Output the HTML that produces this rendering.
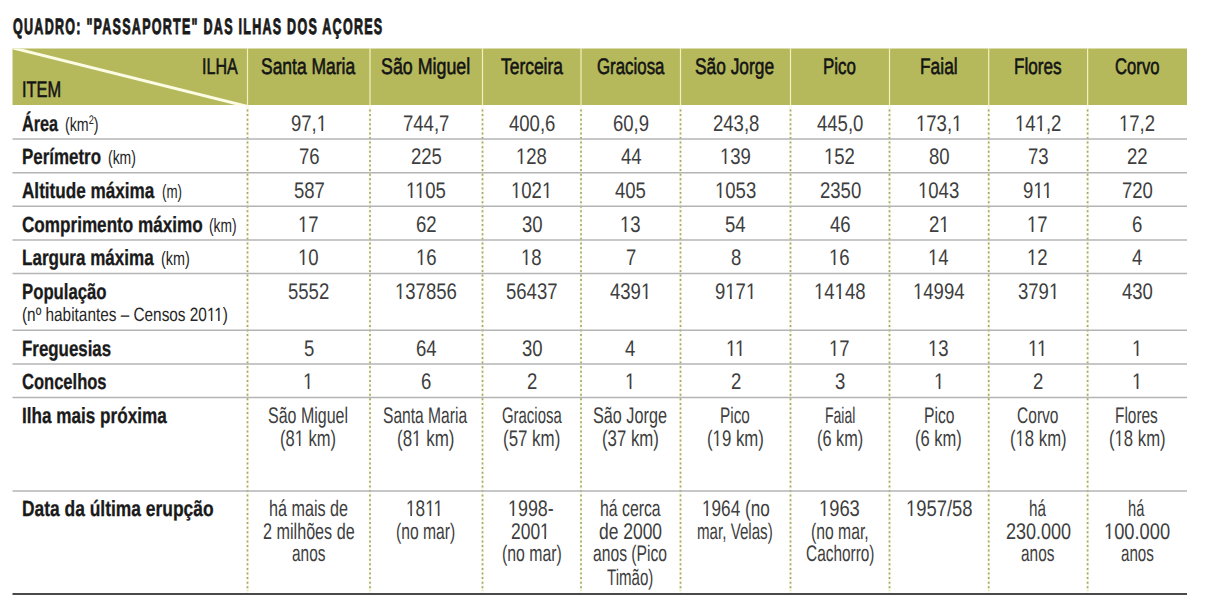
<!DOCTYPE html>
<html><head><meta charset="utf-8"><style>
html,body{margin:0;padding:0;background:#fff;width:1206px;height:609px;overflow:hidden}
.t{position:absolute;white-space:pre;font-family:"Liberation Sans",sans-serif;transform-origin:0 0;text-rendering:geometricPrecision}
svg{position:absolute;left:0;top:0}
</style></head><body>
<svg width="1206" height="609" viewBox="0 0 1206 609"><rect x="12.5" y="48.5" width="1174.5" height="56.5" fill="#b5b95c"/><clipPath id="hc"><rect x="12.5" y="48.5" width="1174.5" height="56.5"/></clipPath><line x1="9" y1="47" x2="252" y2="107.6" stroke="#fcfbe4" stroke-width="3" clip-path="url(#hc)"/><line x1="247.5" y1="48.5" x2="247.5" y2="105" stroke="#f3f0c0" stroke-width="1.2"/><line x1="370" y1="48.5" x2="370" y2="105" stroke="#f3f0c0" stroke-width="1.2"/><line x1="482.5" y1="48.5" x2="482.5" y2="105" stroke="#f3f0c0" stroke-width="1.2"/><line x1="581" y1="48.5" x2="581" y2="105" stroke="#f3f0c0" stroke-width="1.2"/><line x1="680.5" y1="48.5" x2="680.5" y2="105" stroke="#f3f0c0" stroke-width="1.2"/><line x1="790.5" y1="48.5" x2="790.5" y2="105" stroke="#f3f0c0" stroke-width="1.2"/><line x1="889.5" y1="48.5" x2="889.5" y2="105" stroke="#f3f0c0" stroke-width="1.2"/><line x1="988.7" y1="48.5" x2="988.7" y2="105" stroke="#f3f0c0" stroke-width="1.2"/><line x1="1087.6" y1="48.5" x2="1087.6" y2="105" stroke="#f3f0c0" stroke-width="1.2"/><line x1="247.5" y1="105" x2="247.5" y2="593.0" stroke="#fafae6" stroke-width="2.5"/><line x1="247.5" y1="109.5" x2="247.5" y2="591.0" stroke="#a5a76d" stroke-width="1.7" stroke-dasharray="2 2.584"/><line x1="370" y1="105" x2="370" y2="593.0" stroke="#fafae6" stroke-width="2.5"/><line x1="370" y1="109.5" x2="370" y2="591.0" stroke="#a5a76d" stroke-width="1.7" stroke-dasharray="2 2.584"/><line x1="482.5" y1="105" x2="482.5" y2="593.0" stroke="#fafae6" stroke-width="2.5"/><line x1="482.5" y1="109.5" x2="482.5" y2="591.0" stroke="#a5a76d" stroke-width="1.7" stroke-dasharray="2 2.584"/><line x1="581" y1="105" x2="581" y2="593.0" stroke="#fafae6" stroke-width="2.5"/><line x1="581" y1="109.5" x2="581" y2="591.0" stroke="#a5a76d" stroke-width="1.7" stroke-dasharray="2 2.584"/><line x1="680.5" y1="105" x2="680.5" y2="593.0" stroke="#fafae6" stroke-width="2.5"/><line x1="680.5" y1="109.5" x2="680.5" y2="591.0" stroke="#a5a76d" stroke-width="1.7" stroke-dasharray="2 2.584"/><line x1="790.5" y1="105" x2="790.5" y2="593.0" stroke="#fafae6" stroke-width="2.5"/><line x1="790.5" y1="109.5" x2="790.5" y2="591.0" stroke="#a5a76d" stroke-width="1.7" stroke-dasharray="2 2.584"/><line x1="889.5" y1="105" x2="889.5" y2="593.0" stroke="#fafae6" stroke-width="2.5"/><line x1="889.5" y1="109.5" x2="889.5" y2="591.0" stroke="#a5a76d" stroke-width="1.7" stroke-dasharray="2 2.584"/><line x1="988.7" y1="105" x2="988.7" y2="593.0" stroke="#fafae6" stroke-width="2.5"/><line x1="988.7" y1="109.5" x2="988.7" y2="591.0" stroke="#a5a76d" stroke-width="1.7" stroke-dasharray="2 2.584"/><line x1="1087.6" y1="105" x2="1087.6" y2="593.0" stroke="#fafae6" stroke-width="2.5"/><line x1="1087.6" y1="109.5" x2="1087.6" y2="591.0" stroke="#a5a76d" stroke-width="1.7" stroke-dasharray="2 2.584"/><line x1="12.5" y1="139.0" x2="1187" y2="139.0" stroke="#b4b4b4" stroke-width="1.5"/><line x1="12.5" y1="172.7" x2="1187" y2="172.7" stroke="#b4b4b4" stroke-width="1.5"/><line x1="12.5" y1="206.3" x2="1187" y2="206.3" stroke="#b4b4b4" stroke-width="1.5"/><line x1="12.5" y1="239.9" x2="1187" y2="239.9" stroke="#b4b4b4" stroke-width="1.5"/><line x1="12.5" y1="273.4" x2="1187" y2="273.4" stroke="#b4b4b4" stroke-width="1.5"/><line x1="12.5" y1="330.3" x2="1187" y2="330.3" stroke="#b4b4b4" stroke-width="1.5"/><line x1="12.5" y1="364.0" x2="1187" y2="364.0" stroke="#b4b4b4" stroke-width="1.5"/><line x1="12.5" y1="397.5" x2="1187" y2="397.5" stroke="#b4b4b4" stroke-width="1.5"/><line x1="12.5" y1="491.0" x2="1187" y2="491.0" stroke="#b4b4b4" stroke-width="1.5"/><line x1="12.5" y1="594.0" x2="1187" y2="594.0" stroke="#4a4a4a" stroke-width="2"/></svg>
<div class="t" style="left:13.00px;top:16.00px;font-weight:bold;font-size:22.2px;line-height:22.2px;transform:scaleX(0.5657);color:#1a1a1a;letter-spacing:2.2px;-webkit-text-stroke:0.9px #1a1a1a;">QUADRO: "PASSAPORTE" DAS ILHAS DOS AÇORES</div>
<div class="t" style="left:202.09px;top:56.00px;font-weight:normal;font-size:22.6px;line-height:22.6px;transform:scaleX(0.7100);color:#141414;-webkit-text-stroke:0.6px #141414;">ILHA</div>
<div class="t" style="left:21.77px;top:79.00px;font-weight:normal;font-size:22.6px;line-height:22.6px;transform:scaleX(0.7250);color:#141414;-webkit-text-stroke:0.6px #141414;">ITEM</div>
<div class="t" style="left:260.73px;top:56.00px;font-weight:normal;font-size:22.6px;line-height:22.6px;transform:scaleX(0.7730);color:#141414;-webkit-text-stroke:0.6px #141414;">Santa Maria</div>
<div class="t" style="left:380.71px;top:56.00px;font-weight:normal;font-size:22.6px;line-height:22.6px;transform:scaleX(0.7893);color:#141414;-webkit-text-stroke:0.6px #141414;">São Miguel</div>
<div class="t" style="left:500.60px;top:56.00px;font-weight:normal;font-size:22.6px;line-height:22.6px;transform:scaleX(0.7704);color:#141414;-webkit-text-stroke:0.6px #141414;">Terceira</div>
<div class="t" style="left:596.80px;top:56.00px;font-weight:normal;font-size:22.6px;line-height:22.6px;transform:scaleX(0.7462);color:#141414;-webkit-text-stroke:0.6px #141414;">Graciosa</div>
<div class="t" style="left:694.93px;top:56.00px;font-weight:normal;font-size:22.6px;line-height:22.6px;transform:scaleX(0.7676);color:#141414;-webkit-text-stroke:0.6px #141414;">São Jorge</div>
<div class="t" style="left:823.15px;top:56.00px;font-weight:normal;font-size:22.6px;line-height:22.6px;transform:scaleX(0.7512);color:#141414;-webkit-text-stroke:0.6px #141414;">Pico</div>
<div class="t" style="left:920.13px;top:56.00px;font-weight:normal;font-size:22.6px;line-height:22.6px;transform:scaleX(0.7687);color:#141414;-webkit-text-stroke:0.6px #141414;">Faial</div>
<div class="t" style="left:1013.74px;top:56.00px;font-weight:normal;font-size:22.6px;line-height:22.6px;transform:scaleX(0.7581);color:#141414;-webkit-text-stroke:0.6px #141414;">Flores</div>
<div class="t" style="left:1115.10px;top:56.00px;font-weight:normal;font-size:22.6px;line-height:22.6px;transform:scaleX(0.7383);color:#141414;-webkit-text-stroke:0.6px #141414;">Corvo</div>
<div class="t" style="left:21.50px;top:113.00px;font-weight:bold;font-size:22.0px;line-height:22.0px;transform:scaleX(0.7380);color:#1a1a1a;-webkit-text-stroke:0.3px #1a1a1a;">Área</div>
<div class="t" style="left:22.30px;top:146.00px;font-weight:bold;font-size:22.0px;line-height:22.0px;transform:scaleX(0.7689);color:#1a1a1a;-webkit-text-stroke:0.3px #1a1a1a;">Perímetro</div>
<div class="t" style="left:21.50px;top:180.00px;font-weight:bold;font-size:22.0px;line-height:22.0px;transform:scaleX(0.7789);color:#1a1a1a;-webkit-text-stroke:0.3px #1a1a1a;">Altitude máxima</div>
<div class="t" style="left:21.70px;top:214.00px;font-weight:bold;font-size:22.0px;line-height:22.0px;transform:scaleX(0.7780);color:#1a1a1a;-webkit-text-stroke:0.3px #1a1a1a;">Comprimento máximo</div>
<div class="t" style="left:21.70px;top:247.00px;font-weight:bold;font-size:22.0px;line-height:22.0px;transform:scaleX(0.7743);color:#1a1a1a;-webkit-text-stroke:0.3px #1a1a1a;">Largura máxima</div>
<div class="t" style="left:21.70px;top:281.00px;font-weight:bold;font-size:22.0px;line-height:22.0px;transform:scaleX(0.7604);color:#1a1a1a;-webkit-text-stroke:0.3px #1a1a1a;">População</div>
<div class="t" style="left:22.10px;top:338.00px;font-weight:bold;font-size:22.0px;line-height:22.0px;transform:scaleX(0.7672);color:#1a1a1a;-webkit-text-stroke:0.3px #1a1a1a;">Freguesias</div>
<div class="t" style="left:22.00px;top:371.00px;font-weight:bold;font-size:22.0px;line-height:22.0px;transform:scaleX(0.7518);color:#1a1a1a;-webkit-text-stroke:0.3px #1a1a1a;">Concelhos</div>
<div class="t" style="left:22.00px;top:405.00px;font-weight:bold;font-size:22.0px;line-height:22.0px;transform:scaleX(0.7786);color:#1a1a1a;-webkit-text-stroke:0.3px #1a1a1a;">Ilha mais próxima</div>
<div class="t" style="left:22.00px;top:498.00px;font-weight:bold;font-size:22.0px;line-height:22.0px;transform:scaleX(0.7913);color:#1a1a1a;-webkit-text-stroke:0.3px #1a1a1a;">Data da última erupção</div>
<div class="t" style="left:64.70px;top:116.00px;font-weight:normal;font-size:19.2px;line-height:19.2px;transform:scaleX(0.7400);color:#262626;">(km<span style="font-size:12.5px;position:relative;top:-7px">2</span>)</div>
<div class="t" style="left:108.30px;top:149.00px;font-weight:normal;font-size:19.2px;line-height:19.2px;transform:scaleX(0.7263);color:#262626;">(km)</div>
<div class="t" style="left:161.60px;top:183.00px;font-weight:normal;font-size:19.2px;line-height:19.2px;transform:scaleX(0.6964);color:#262626;">(m)</div>
<div class="t" style="left:208.60px;top:217.00px;font-weight:normal;font-size:19.2px;line-height:19.2px;transform:scaleX(0.7184);color:#262626;">(km)</div>
<div class="t" style="left:160.50px;top:250.00px;font-weight:normal;font-size:19.2px;line-height:19.2px;transform:scaleX(0.7500);color:#262626;">(km)</div>
<div class="t" style="left:21.70px;top:306.00px;font-weight:normal;font-size:19.2px;line-height:19.2px;transform:scaleX(0.8004);color:#262626;">(nº habitantes – Censos 2011)</div>
<div class="t" style="left:290.71px;top:113.00px;font-weight:normal;font-size:22.6px;line-height:22.6px;transform:scaleX(0.8200);color:#3e3e3e;">97,1</div>
<div class="t" style="left:403.29px;top:113.00px;font-weight:normal;font-size:22.6px;line-height:22.6px;transform:scaleX(0.8200);color:#3e3e3e;">744,7</div>
<div class="t" style="left:508.79px;top:113.00px;font-weight:normal;font-size:22.6px;line-height:22.6px;transform:scaleX(0.8200);color:#3e3e3e;">400,6</div>
<div class="t" style="left:612.71px;top:113.00px;font-weight:normal;font-size:22.6px;line-height:22.6px;transform:scaleX(0.8200);color:#3e3e3e;">60,9</div>
<div class="t" style="left:712.54px;top:113.00px;font-weight:normal;font-size:22.6px;line-height:22.6px;transform:scaleX(0.8200);color:#3e3e3e;">243,8</div>
<div class="t" style="left:816.63px;top:113.00px;font-weight:normal;font-size:22.6px;line-height:22.6px;transform:scaleX(0.8200);color:#3e3e3e;">445,0</div>
<div class="t" style="left:915.73px;top:113.00px;font-weight:normal;font-size:22.6px;line-height:22.6px;transform:scaleX(0.8200);color:#3e3e3e;">173,1</div>
<div class="t" style="left:1014.78px;top:113.00px;font-weight:normal;font-size:22.6px;line-height:22.6px;transform:scaleX(0.8200);color:#3e3e3e;">141,2</div>
<div class="t" style="left:1118.85px;top:113.00px;font-weight:normal;font-size:22.6px;line-height:22.6px;transform:scaleX(0.8200);color:#3e3e3e;">17,2</div>
<div class="t" style="left:298.50px;top:146.00px;font-weight:normal;font-size:22.6px;line-height:22.6px;transform:scaleX(0.8200);color:#3e3e3e;">76</div>
<div class="t" style="left:410.67px;top:146.00px;font-weight:normal;font-size:22.6px;line-height:22.6px;transform:scaleX(0.8200);color:#3e3e3e;">225</div>
<div class="t" style="left:515.76px;top:146.00px;font-weight:normal;font-size:22.6px;line-height:22.6px;transform:scaleX(0.8200);color:#3e3e3e;">128</div>
<div class="t" style="left:620.50px;top:146.00px;font-weight:normal;font-size:22.6px;line-height:22.6px;transform:scaleX(0.8200);color:#3e3e3e;">44</div>
<div class="t" style="left:719.51px;top:146.00px;font-weight:normal;font-size:22.6px;line-height:22.6px;transform:scaleX(0.8200);color:#3e3e3e;">139</div>
<div class="t" style="left:824.42px;top:146.00px;font-weight:normal;font-size:22.6px;line-height:22.6px;transform:scaleX(0.8200);color:#3e3e3e;">152</div>
<div class="t" style="left:928.85px;top:146.00px;font-weight:normal;font-size:22.6px;line-height:22.6px;transform:scaleX(0.8200);color:#3e3e3e;">80</div>
<div class="t" style="left:1027.90px;top:146.00px;font-weight:normal;font-size:22.6px;line-height:22.6px;transform:scaleX(0.8200);color:#3e3e3e;">73</div>
<div class="t" style="left:1127.05px;top:146.00px;font-weight:normal;font-size:22.6px;line-height:22.6px;transform:scaleX(0.8200);color:#3e3e3e;">22</div>
<div class="t" style="left:293.58px;top:180.00px;font-weight:normal;font-size:22.6px;line-height:22.6px;transform:scaleX(0.8200);color:#3e3e3e;">587</div>
<div class="t" style="left:406.16px;top:180.00px;font-weight:normal;font-size:22.6px;line-height:22.6px;transform:scaleX(0.8200);color:#3e3e3e;">1105</div>
<div class="t" style="left:510.84px;top:180.00px;font-weight:normal;font-size:22.6px;line-height:22.6px;transform:scaleX(0.8200);color:#3e3e3e;">1021</div>
<div class="t" style="left:615.17px;top:180.00px;font-weight:normal;font-size:22.6px;line-height:22.6px;transform:scaleX(0.8200);color:#3e3e3e;">405</div>
<div class="t" style="left:714.59px;top:180.00px;font-weight:normal;font-size:22.6px;line-height:22.6px;transform:scaleX(0.8200);color:#3e3e3e;">1053</div>
<div class="t" style="left:819.50px;top:180.00px;font-weight:normal;font-size:22.6px;line-height:22.6px;transform:scaleX(0.8200);color:#3e3e3e;">2350</div>
<div class="t" style="left:918.19px;top:180.00px;font-weight:normal;font-size:22.6px;line-height:22.6px;transform:scaleX(0.8200);color:#3e3e3e;">1043</div>
<div class="t" style="left:1023.39px;top:180.00px;font-weight:normal;font-size:22.6px;line-height:22.6px;transform:scaleX(0.8200);color:#3e3e3e;">911</div>
<div class="t" style="left:1121.72px;top:180.00px;font-weight:normal;font-size:22.6px;line-height:22.6px;transform:scaleX(0.8200);color:#3e3e3e;">720</div>
<div class="t" style="left:298.09px;top:214.00px;font-weight:normal;font-size:22.6px;line-height:22.6px;transform:scaleX(0.8200);color:#3e3e3e;">17</div>
<div class="t" style="left:416.00px;top:214.00px;font-weight:normal;font-size:22.6px;line-height:22.6px;transform:scaleX(0.8200);color:#3e3e3e;">62</div>
<div class="t" style="left:521.50px;top:214.00px;font-weight:normal;font-size:22.6px;line-height:22.6px;transform:scaleX(0.8200);color:#3e3e3e;">30</div>
<div class="t" style="left:620.09px;top:214.00px;font-weight:normal;font-size:22.6px;line-height:22.6px;transform:scaleX(0.8200);color:#3e3e3e;">13</div>
<div class="t" style="left:725.25px;top:214.00px;font-weight:normal;font-size:22.6px;line-height:22.6px;transform:scaleX(0.8200);color:#3e3e3e;">54</div>
<div class="t" style="left:829.75px;top:214.00px;font-weight:normal;font-size:22.6px;line-height:22.6px;transform:scaleX(0.8200);color:#3e3e3e;">46</div>
<div class="t" style="left:928.85px;top:214.00px;font-weight:normal;font-size:22.6px;line-height:22.6px;transform:scaleX(0.8200);color:#3e3e3e;">21</div>
<div class="t" style="left:1027.49px;top:214.00px;font-weight:normal;font-size:22.6px;line-height:22.6px;transform:scaleX(0.8200);color:#3e3e3e;">17</div>
<div class="t" style="left:1132.38px;top:214.00px;font-weight:normal;font-size:22.6px;line-height:22.6px;transform:scaleX(0.8200);color:#3e3e3e;">6</div>
<div class="t" style="left:298.09px;top:247.00px;font-weight:normal;font-size:22.6px;line-height:22.6px;transform:scaleX(0.8200);color:#3e3e3e;">10</div>
<div class="t" style="left:415.59px;top:247.00px;font-weight:normal;font-size:22.6px;line-height:22.6px;transform:scaleX(0.8200);color:#3e3e3e;">16</div>
<div class="t" style="left:521.09px;top:247.00px;font-weight:normal;font-size:22.6px;line-height:22.6px;transform:scaleX(0.8200);color:#3e3e3e;">18</div>
<div class="t" style="left:625.83px;top:247.00px;font-weight:normal;font-size:22.6px;line-height:22.6px;transform:scaleX(0.8200);color:#3e3e3e;">7</div>
<div class="t" style="left:730.58px;top:247.00px;font-weight:normal;font-size:22.6px;line-height:22.6px;transform:scaleX(0.8200);color:#3e3e3e;">8</div>
<div class="t" style="left:829.34px;top:247.00px;font-weight:normal;font-size:22.6px;line-height:22.6px;transform:scaleX(0.8200);color:#3e3e3e;">16</div>
<div class="t" style="left:928.44px;top:247.00px;font-weight:normal;font-size:22.6px;line-height:22.6px;transform:scaleX(0.8200);color:#3e3e3e;">14</div>
<div class="t" style="left:1027.49px;top:247.00px;font-weight:normal;font-size:22.6px;line-height:22.6px;transform:scaleX(0.8200);color:#3e3e3e;">12</div>
<div class="t" style="left:1131.97px;top:247.00px;font-weight:normal;font-size:22.6px;line-height:22.6px;transform:scaleX(0.8200);color:#3e3e3e;">4</div>
<div class="t" style="left:288.25px;top:281.00px;font-weight:normal;font-size:22.6px;line-height:22.6px;transform:scaleX(0.8200);color:#3e3e3e;">5552</div>
<div class="t" style="left:395.09px;top:281.00px;font-weight:normal;font-size:22.6px;line-height:22.6px;transform:scaleX(0.8200);color:#3e3e3e;">137856</div>
<div class="t" style="left:506.33px;top:281.00px;font-weight:normal;font-size:22.6px;line-height:22.6px;transform:scaleX(0.8200);color:#3e3e3e;">56437</div>
<div class="t" style="left:610.25px;top:281.00px;font-weight:normal;font-size:22.6px;line-height:22.6px;transform:scaleX(0.8200);color:#3e3e3e;">4391</div>
<div class="t" style="left:715.00px;top:281.00px;font-weight:normal;font-size:22.6px;line-height:22.6px;transform:scaleX(0.8200);color:#3e3e3e;">9171</div>
<div class="t" style="left:813.76px;top:281.00px;font-weight:normal;font-size:22.6px;line-height:22.6px;transform:scaleX(0.8200);color:#3e3e3e;">14148</div>
<div class="t" style="left:912.86px;top:281.00px;font-weight:normal;font-size:22.6px;line-height:22.6px;transform:scaleX(0.8200);color:#3e3e3e;">14994</div>
<div class="t" style="left:1017.65px;top:281.00px;font-weight:normal;font-size:22.6px;line-height:22.6px;transform:scaleX(0.8200);color:#3e3e3e;">3791</div>
<div class="t" style="left:1121.72px;top:281.00px;font-weight:normal;font-size:22.6px;line-height:22.6px;transform:scaleX(0.8200);color:#3e3e3e;">430</div>
<div class="t" style="left:303.83px;top:338.00px;font-weight:normal;font-size:22.6px;line-height:22.6px;transform:scaleX(0.8200);color:#3e3e3e;">5</div>
<div class="t" style="left:416.00px;top:338.00px;font-weight:normal;font-size:22.6px;line-height:22.6px;transform:scaleX(0.8200);color:#3e3e3e;">64</div>
<div class="t" style="left:521.50px;top:338.00px;font-weight:normal;font-size:22.6px;line-height:22.6px;transform:scaleX(0.8200);color:#3e3e3e;">30</div>
<div class="t" style="left:625.42px;top:338.00px;font-weight:normal;font-size:22.6px;line-height:22.6px;transform:scaleX(0.8200);color:#3e3e3e;">4</div>
<div class="t" style="left:725.66px;top:338.00px;font-weight:normal;font-size:22.6px;line-height:22.6px;transform:scaleX(0.8200);color:#3e3e3e;">11</div>
<div class="t" style="left:829.34px;top:338.00px;font-weight:normal;font-size:22.6px;line-height:22.6px;transform:scaleX(0.8200);color:#3e3e3e;">17</div>
<div class="t" style="left:928.44px;top:338.00px;font-weight:normal;font-size:22.6px;line-height:22.6px;transform:scaleX(0.8200);color:#3e3e3e;">13</div>
<div class="t" style="left:1028.31px;top:338.00px;font-weight:normal;font-size:22.6px;line-height:22.6px;transform:scaleX(0.8200);color:#3e3e3e;">11</div>
<div class="t" style="left:1131.97px;top:338.00px;font-weight:normal;font-size:22.6px;line-height:22.6px;transform:scaleX(0.8200);color:#3e3e3e;">1</div>
<div class="t" style="left:303.42px;top:371.00px;font-weight:normal;font-size:22.6px;line-height:22.6px;transform:scaleX(0.8200);color:#3e3e3e;">1</div>
<div class="t" style="left:421.33px;top:371.00px;font-weight:normal;font-size:22.6px;line-height:22.6px;transform:scaleX(0.8200);color:#3e3e3e;">6</div>
<div class="t" style="left:526.83px;top:371.00px;font-weight:normal;font-size:22.6px;line-height:22.6px;transform:scaleX(0.8200);color:#3e3e3e;">2</div>
<div class="t" style="left:625.42px;top:371.00px;font-weight:normal;font-size:22.6px;line-height:22.6px;transform:scaleX(0.8200);color:#3e3e3e;">1</div>
<div class="t" style="left:730.58px;top:371.00px;font-weight:normal;font-size:22.6px;line-height:22.6px;transform:scaleX(0.8200);color:#3e3e3e;">2</div>
<div class="t" style="left:835.08px;top:371.00px;font-weight:normal;font-size:22.6px;line-height:22.6px;transform:scaleX(0.8200);color:#3e3e3e;">3</div>
<div class="t" style="left:933.77px;top:371.00px;font-weight:normal;font-size:22.6px;line-height:22.6px;transform:scaleX(0.8200);color:#3e3e3e;">1</div>
<div class="t" style="left:1033.23px;top:371.00px;font-weight:normal;font-size:22.6px;line-height:22.6px;transform:scaleX(0.8200);color:#3e3e3e;">2</div>
<div class="t" style="left:1131.97px;top:371.00px;font-weight:normal;font-size:22.6px;line-height:22.6px;transform:scaleX(0.8200);color:#3e3e3e;">1</div>
<div class="t" style="left:268.14px;top:405.00px;font-weight:normal;font-size:22.6px;line-height:22.6px;transform:scaleX(0.7076);color:#3e3e3e;">São Miguel</div>
<div class="t" style="left:280.27px;top:428.00px;font-weight:normal;font-size:22.6px;line-height:22.6px;transform:scaleX(0.7320);color:#3e3e3e;">(81 km)</div>
<div class="t" style="left:383.01px;top:405.00px;font-weight:normal;font-size:22.6px;line-height:22.6px;transform:scaleX(0.6902);color:#3e3e3e;">Santa Maria</div>
<div class="t" style="left:396.95px;top:428.00px;font-weight:normal;font-size:22.6px;line-height:22.6px;transform:scaleX(0.7507);color:#3e3e3e;">(81 km)</div>
<div class="t" style="left:501.50px;top:405.00px;font-weight:normal;font-size:22.6px;line-height:22.6px;transform:scaleX(0.6604);color:#3e3e3e;">Graciosa</div>
<div class="t" style="left:502.75px;top:428.00px;font-weight:normal;font-size:22.6px;line-height:22.6px;transform:scaleX(0.7480);color:#3e3e3e;">(57 km)</div>
<div class="t" style="left:593.08px;top:405.00px;font-weight:normal;font-size:22.6px;line-height:22.6px;transform:scaleX(0.7176);color:#3e3e3e;">São Jorge</div>
<div class="t" style="left:601.66px;top:428.00px;font-weight:normal;font-size:22.6px;line-height:22.6px;transform:scaleX(0.7427);color:#3e3e3e;">(37 km)</div>
<div class="t" style="left:720.12px;top:405.00px;font-weight:normal;font-size:22.6px;line-height:22.6px;transform:scaleX(0.6791);color:#3e3e3e;">Pico</div>
<div class="t" style="left:706.76px;top:428.00px;font-weight:normal;font-size:22.6px;line-height:22.6px;transform:scaleX(0.7427);color:#3e3e3e;">(19 km)</div>
<div class="t" style="left:824.68px;top:405.00px;font-weight:normal;font-size:22.6px;line-height:22.6px;transform:scaleX(0.6208);color:#3e3e3e;">Faial</div>
<div class="t" style="left:816.58px;top:428.00px;font-weight:normal;font-size:22.6px;line-height:22.6px;transform:scaleX(0.7206);color:#3e3e3e;">(6 km)</div>
<div class="t" style="left:923.60px;top:405.00px;font-weight:normal;font-size:22.6px;line-height:22.6px;transform:scaleX(0.6953);color:#3e3e3e;">Pico</div>
<div class="t" style="left:915.37px;top:428.00px;font-weight:normal;font-size:22.6px;line-height:22.6px;transform:scaleX(0.7302);color:#3e3e3e;">(6 km)</div>
<div class="t" style="left:1017.40px;top:405.00px;font-weight:normal;font-size:22.6px;line-height:22.6px;transform:scaleX(0.6883);color:#3e3e3e;">Corvo</div>
<div class="t" style="left:1009.86px;top:428.00px;font-weight:normal;font-size:22.6px;line-height:22.6px;transform:scaleX(0.7400);color:#3e3e3e;">(18 km)</div>
<div class="t" style="left:1115.22px;top:405.00px;font-weight:normal;font-size:22.6px;line-height:22.6px;transform:scaleX(0.6823);color:#3e3e3e;">Flores</div>
<div class="t" style="left:1108.66px;top:428.00px;font-weight:normal;font-size:22.6px;line-height:22.6px;transform:scaleX(0.7400);color:#3e3e3e;">(18 km)</div>
<div class="t" style="left:268.78px;top:498.00px;font-weight:normal;font-size:22.6px;line-height:22.6px;transform:scaleX(0.7156);color:#3e3e3e;">há mais de</div>
<div class="t" style="left:262.90px;top:521.00px;font-weight:normal;font-size:22.6px;line-height:22.6px;transform:scaleX(0.7156);color:#3e3e3e;">2 milhões de</div>
<div class="t" style="left:291.80px;top:543.00px;font-weight:normal;font-size:22.6px;line-height:22.6px;transform:scaleX(0.6816);color:#3e3e3e;">anos</div>
<div class="t" style="left:406.44px;top:498.00px;font-weight:normal;font-size:22.6px;line-height:22.6px;transform:scaleX(0.7617);color:#3e3e3e;">1811</div>
<div class="t" style="left:395.61px;top:521.00px;font-weight:normal;font-size:22.6px;line-height:22.6px;transform:scaleX(0.6940);color:#3e3e3e;">(no mar)</div>
<div class="t" style="left:508.11px;top:498.00px;font-weight:normal;font-size:22.6px;line-height:22.6px;transform:scaleX(0.7912);color:#3e3e3e;">1998-</div>
<div class="t" style="left:511.40px;top:521.00px;font-weight:normal;font-size:22.6px;line-height:22.6px;transform:scaleX(0.7720);color:#3e3e3e;">2001</div>
<div class="t" style="left:501.60px;top:543.00px;font-weight:normal;font-size:22.6px;line-height:22.6px;transform:scaleX(0.7012);color:#3e3e3e;">(no mar)</div>
<div class="t" style="left:600.00px;top:498.00px;font-weight:normal;font-size:22.6px;line-height:22.6px;transform:scaleX(0.7000);color:#3e3e3e;">há cerca</div>
<div class="t" style="left:599.00px;top:521.00px;font-weight:normal;font-size:22.6px;line-height:22.6px;transform:scaleX(0.7720);color:#3e3e3e;">de 2000</div>
<div class="t" style="left:593.00px;top:543.00px;font-weight:normal;font-size:22.6px;line-height:22.6px;transform:scaleX(0.6935);color:#3e3e3e;">anos (Pico</div>
<div class="t" style="left:607.20px;top:567.00px;font-weight:normal;font-size:22.6px;line-height:22.6px;transform:scaleX(0.6667);color:#3e3e3e;">Timão)</div>
<div class="t" style="left:701.54px;top:498.00px;font-weight:normal;font-size:22.6px;line-height:22.6px;transform:scaleX(0.7602);color:#3e3e3e;">1964 (no</div>
<div class="t" style="left:696.83px;top:521.00px;font-weight:normal;font-size:22.6px;line-height:22.6px;transform:scaleX(0.6696);color:#3e3e3e;">mar, Velas)</div>
<div class="t" style="left:819.49px;top:498.00px;font-weight:normal;font-size:22.6px;line-height:22.6px;transform:scaleX(0.8122);color:#3e3e3e;">1963</div>
<div class="t" style="left:811.00px;top:521.00px;font-weight:normal;font-size:22.6px;line-height:22.6px;transform:scaleX(0.6963);color:#3e3e3e;">(no mar,</div>
<div class="t" style="left:805.80px;top:543.00px;font-weight:normal;font-size:22.6px;line-height:22.6px;transform:scaleX(0.6820);color:#3e3e3e;">Cachorro)</div>
<div class="t" style="left:906.08px;top:498.00px;font-weight:normal;font-size:22.6px;line-height:22.6px;transform:scaleX(0.8150);color:#3e3e3e;">1957/58</div>
<div class="t" style="left:1029.12px;top:498.00px;font-weight:normal;font-size:22.6px;line-height:22.6px;transform:scaleX(0.6760);color:#3e3e3e;">há</div>
<div class="t" style="left:1005.70px;top:521.00px;font-weight:normal;font-size:22.6px;line-height:22.6px;transform:scaleX(0.7976);color:#3e3e3e;">230.000</div>
<div class="t" style="left:1021.30px;top:543.00px;font-weight:normal;font-size:22.6px;line-height:22.6px;transform:scaleX(0.6816);color:#3e3e3e;">anos</div>
<div class="t" style="left:1128.15px;top:498.00px;font-weight:normal;font-size:22.6px;line-height:22.6px;transform:scaleX(0.6480);color:#3e3e3e;">há</div>
<div class="t" style="left:1103.59px;top:521.00px;font-weight:normal;font-size:22.6px;line-height:22.6px;transform:scaleX(0.8086);color:#3e3e3e;">100.000</div>
<div class="t" style="left:1120.80px;top:543.00px;font-weight:normal;font-size:22.6px;line-height:22.6px;transform:scaleX(0.6714);color:#3e3e3e;">anos</div>
<svg width="1206" height="609" viewBox="0 0 1206 609" style="position:absolute;left:0;top:0"><rect x="206.44" y="319.00" width="9.07" height="2.60" fill="#fff"/><rect x="210.91" y="318.70" width="1.40" height="2.30" fill="#262626"/><rect x="213.84" y="319.00" width="9.07" height="2.60" fill="#fff"/><rect x="218.14" y="318.70" width="1.46" height="2.30" fill="#262626"/><rect x="316.28" y="129.00" width="10.93" height="2.60" fill="#fff"/><rect x="321.43" y="128.70" width="1.74" height="2.30" fill="#3e3e3e"/><rect x="915.54" y="129.00" width="10.93" height="2.60" fill="#fff"/><rect x="920.68" y="128.70" width="1.70" height="2.30" fill="#3e3e3e"/><rect x="951.60" y="129.00" width="10.93" height="2.60" fill="#fff"/><rect x="956.68" y="128.70" width="1.70" height="2.30" fill="#3e3e3e"/><rect x="1014.59" y="129.00" width="10.93" height="2.60" fill="#fff"/><rect x="1019.68" y="128.70" width="1.70" height="2.30" fill="#3e3e3e"/><rect x="1035.20" y="129.00" width="10.93" height="2.60" fill="#fff"/><rect x="1040.15" y="128.70" width="1.75" height="2.30" fill="#3e3e3e"/><rect x="1118.66" y="129.00" width="10.93" height="2.60" fill="#fff"/><rect x="1123.68" y="128.70" width="1.70" height="2.30" fill="#3e3e3e"/><rect x="515.57" y="162.00" width="10.93" height="2.60" fill="#fff"/><rect x="520.68" y="161.70" width="1.70" height="2.30" fill="#3e3e3e"/><rect x="719.32" y="162.00" width="10.93" height="2.60" fill="#fff"/><rect x="724.68" y="161.70" width="1.70" height="2.30" fill="#3e3e3e"/><rect x="824.23" y="162.00" width="10.93" height="2.60" fill="#fff"/><rect x="828.68" y="161.70" width="1.70" height="2.30" fill="#3e3e3e"/><rect x="405.97" y="196.00" width="10.93" height="2.60" fill="#fff"/><rect x="410.68" y="195.70" width="1.70" height="2.30" fill="#3e3e3e"/><rect x="414.89" y="196.00" width="10.93" height="2.60" fill="#fff"/><rect x="419.68" y="195.70" width="1.70" height="2.30" fill="#3e3e3e"/><rect x="510.65" y="196.00" width="10.93" height="2.60" fill="#fff"/><rect x="515.68" y="195.70" width="1.70" height="2.30" fill="#3e3e3e"/><rect x="541.56" y="196.00" width="10.93" height="2.60" fill="#fff"/><rect x="546.68" y="195.70" width="1.70" height="2.30" fill="#3e3e3e"/><rect x="714.40" y="196.00" width="10.93" height="2.60" fill="#fff"/><rect x="719.68" y="195.70" width="1.70" height="2.30" fill="#3e3e3e"/><rect x="918.00" y="196.00" width="10.93" height="2.60" fill="#fff"/><rect x="922.68" y="195.70" width="1.70" height="2.30" fill="#3e3e3e"/><rect x="1033.51" y="196.00" width="10.93" height="2.60" fill="#fff"/><rect x="1037.94" y="195.70" width="1.74" height="2.30" fill="#3e3e3e"/><rect x="1042.44" y="196.00" width="10.93" height="2.60" fill="#fff"/><rect x="1046.94" y="195.70" width="1.74" height="2.30" fill="#3e3e3e"/><rect x="297.90" y="230.00" width="10.93" height="2.60" fill="#fff"/><rect x="302.68" y="229.70" width="1.70" height="2.30" fill="#3e3e3e"/><rect x="619.90" y="230.00" width="10.93" height="2.60" fill="#fff"/><rect x="624.68" y="229.70" width="1.70" height="2.30" fill="#3e3e3e"/><rect x="938.97" y="230.00" width="10.93" height="2.60" fill="#fff"/><rect x="943.94" y="229.70" width="1.74" height="2.30" fill="#3e3e3e"/><rect x="1027.30" y="230.00" width="10.93" height="2.60" fill="#fff"/><rect x="1031.68" y="229.70" width="1.70" height="2.30" fill="#3e3e3e"/><rect x="297.90" y="263.00" width="10.93" height="2.60" fill="#fff"/><rect x="302.68" y="262.70" width="1.70" height="2.30" fill="#3e3e3e"/><rect x="415.40" y="263.00" width="10.93" height="2.60" fill="#fff"/><rect x="420.68" y="262.70" width="1.70" height="2.30" fill="#3e3e3e"/><rect x="520.90" y="263.00" width="10.93" height="2.60" fill="#fff"/><rect x="525.68" y="262.70" width="1.70" height="2.30" fill="#3e3e3e"/><rect x="829.15" y="263.00" width="10.93" height="2.60" fill="#fff"/><rect x="833.68" y="262.70" width="1.70" height="2.30" fill="#3e3e3e"/><rect x="928.25" y="263.00" width="10.93" height="2.60" fill="#fff"/><rect x="932.68" y="262.70" width="1.70" height="2.30" fill="#3e3e3e"/><rect x="1027.30" y="263.00" width="10.93" height="2.60" fill="#fff"/><rect x="1031.68" y="262.70" width="1.70" height="2.30" fill="#3e3e3e"/><rect x="394.90" y="297.00" width="10.93" height="2.60" fill="#fff"/><rect x="399.68" y="296.70" width="1.70" height="2.30" fill="#3e3e3e"/><rect x="640.97" y="297.00" width="10.93" height="2.60" fill="#fff"/><rect x="645.68" y="296.70" width="1.70" height="2.30" fill="#3e3e3e"/><rect x="725.12" y="297.00" width="10.93" height="2.60" fill="#fff"/><rect x="729.94" y="296.70" width="1.74" height="2.30" fill="#3e3e3e"/><rect x="745.72" y="297.00" width="10.93" height="2.60" fill="#fff"/><rect x="750.68" y="296.70" width="1.70" height="2.30" fill="#3e3e3e"/><rect x="813.57" y="297.00" width="10.93" height="2.60" fill="#fff"/><rect x="818.68" y="296.70" width="1.70" height="2.30" fill="#3e3e3e"/><rect x="834.18" y="297.00" width="10.93" height="2.60" fill="#fff"/><rect x="839.15" y="296.70" width="1.75" height="2.30" fill="#3e3e3e"/><rect x="912.67" y="297.00" width="10.93" height="2.60" fill="#fff"/><rect x="917.68" y="296.70" width="1.70" height="2.30" fill="#3e3e3e"/><rect x="1048.37" y="297.00" width="10.93" height="2.60" fill="#fff"/><rect x="1053.68" y="296.70" width="1.70" height="2.30" fill="#3e3e3e"/><rect x="725.47" y="354.00" width="10.93" height="2.60" fill="#fff"/><rect x="730.68" y="353.70" width="1.70" height="2.30" fill="#3e3e3e"/><rect x="734.39" y="354.00" width="10.93" height="2.60" fill="#fff"/><rect x="739.68" y="353.70" width="1.70" height="2.30" fill="#3e3e3e"/><rect x="829.15" y="354.00" width="10.93" height="2.60" fill="#fff"/><rect x="833.68" y="353.70" width="1.70" height="2.30" fill="#3e3e3e"/><rect x="928.25" y="354.00" width="10.93" height="2.60" fill="#fff"/><rect x="932.68" y="353.70" width="1.70" height="2.30" fill="#3e3e3e"/><rect x="1028.12" y="354.00" width="10.93" height="2.60" fill="#fff"/><rect x="1032.68" y="353.70" width="1.70" height="2.30" fill="#3e3e3e"/><rect x="1037.04" y="354.00" width="10.93" height="2.60" fill="#fff"/><rect x="1041.68" y="353.70" width="1.70" height="2.30" fill="#3e3e3e"/><rect x="1131.78" y="354.00" width="10.93" height="2.60" fill="#fff"/><rect x="1136.68" y="353.70" width="1.70" height="2.30" fill="#3e3e3e"/><rect x="303.23" y="387.00" width="10.93" height="2.60" fill="#fff"/><rect x="307.68" y="386.70" width="1.70" height="2.30" fill="#3e3e3e"/><rect x="625.23" y="387.00" width="10.93" height="2.60" fill="#fff"/><rect x="629.68" y="386.70" width="1.70" height="2.30" fill="#3e3e3e"/><rect x="933.58" y="387.00" width="10.93" height="2.60" fill="#fff"/><rect x="938.68" y="386.70" width="1.70" height="2.30" fill="#3e3e3e"/><rect x="1131.78" y="387.00" width="10.93" height="2.60" fill="#fff"/><rect x="1136.68" y="386.70" width="1.70" height="2.30" fill="#3e3e3e"/><rect x="294.80" y="444.00" width="9.76" height="2.60" fill="#fff"/><rect x="298.94" y="443.70" width="1.55" height="2.30" fill="#3e3e3e"/><rect x="411.85" y="444.00" width="10.01" height="2.60" fill="#fff"/><rect x="416.27" y="443.70" width="1.58" height="2.30" fill="#3e3e3e"/><rect x="712.17" y="444.00" width="9.90" height="2.60" fill="#fff"/><rect x="716.75" y="443.70" width="1.56" height="2.30" fill="#3e3e3e"/><rect x="1015.25" y="444.00" width="9.87" height="2.60" fill="#fff"/><rect x="1019.74" y="443.70" width="1.53" height="2.30" fill="#3e3e3e"/><rect x="1114.05" y="444.00" width="9.87" height="2.60" fill="#fff"/><rect x="1118.74" y="443.70" width="1.53" height="2.30" fill="#3e3e3e"/><rect x="406.27" y="514.00" width="10.16" height="2.60" fill="#fff"/><rect x="410.34" y="513.70" width="1.62" height="2.30" fill="#3e3e3e"/><rect x="425.40" y="514.00" width="10.16" height="2.60" fill="#fff"/><rect x="429.60" y="513.70" width="1.60" height="2.30" fill="#3e3e3e"/><rect x="433.70" y="514.00" width="10.16" height="2.60" fill="#fff"/><rect x="437.85" y="513.70" width="1.60" height="2.30" fill="#3e3e3e"/><rect x="507.93" y="514.00" width="10.55" height="2.60" fill="#fff"/><rect x="512.49" y="513.70" width="1.68" height="2.30" fill="#3e3e3e"/><rect x="540.32" y="537.00" width="10.29" height="2.60" fill="#fff"/><rect x="544.40" y="536.70" width="1.65" height="2.30" fill="#3e3e3e"/><rect x="701.37" y="514.00" width="10.14" height="2.60" fill="#fff"/><rect x="706.34" y="513.70" width="1.61" height="2.30" fill="#3e3e3e"/><rect x="819.30" y="514.00" width="10.83" height="2.60" fill="#fff"/><rect x="823.63" y="513.70" width="1.72" height="2.30" fill="#3e3e3e"/><rect x="905.90" y="514.00" width="10.87" height="2.60" fill="#fff"/><rect x="910.67" y="513.70" width="1.68" height="2.30" fill="#3e3e3e"/><rect x="1103.41" y="537.00" width="10.78" height="2.60" fill="#fff"/><rect x="1108.61" y="536.70" width="1.71" height="2.30" fill="#3e3e3e"/></svg>
</body></html>
